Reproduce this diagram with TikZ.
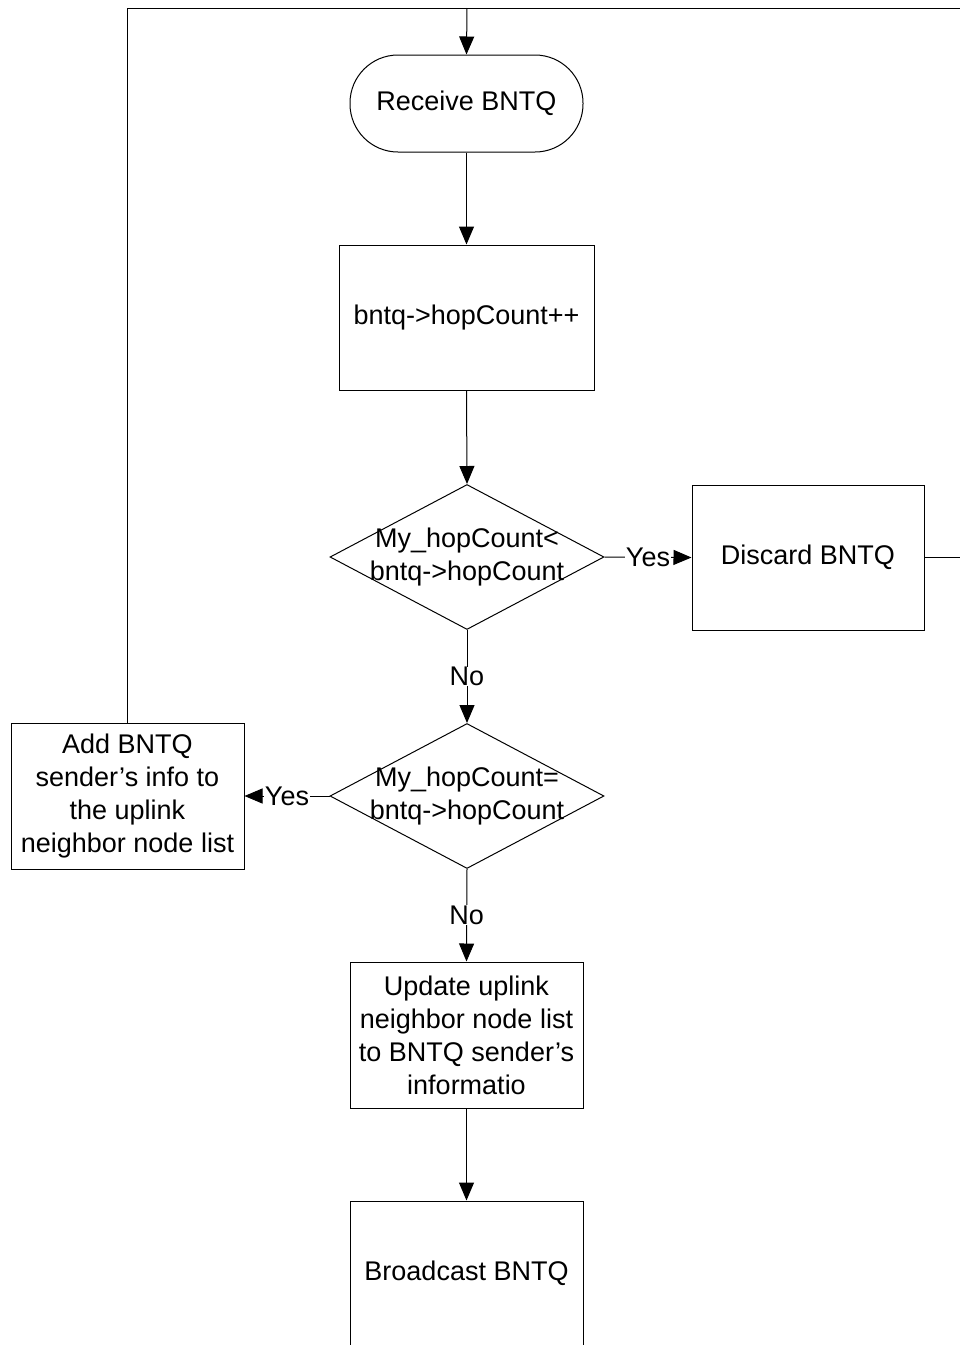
\documentclass[tikz,border=0pt]{standalone}
\usepackage{fontspec}
\setmainfont{Liberation Sans}
\usetikzlibrary{arrows.meta,shapes.geometric}
\tikzset{
  lbl/.style={font=\fontsize{27}{33}\selectfont, align=center},
  stepbox/.style={draw, line width=1pt, rectangle, inner sep=0pt, lbl},
  termbox/.style={draw, line width=1pt, rectangle, rounded corners=48pt, inner sep=0pt, lbl,
                  minimum width=233pt, minimum height=97pt},
  decision/.style={draw, line width=1pt, diamond, inner sep=0pt, aspect=1.89,
                   minimum width=274pt, minimum height=145pt},
  flow/.style={line width=1pt, -{Triangle[length=18pt,width=15pt]}},
  plain/.style={line width=1pt},
  edgelbl/.style={lbl, fill=white, inner sep=0.5pt}
}
\begin{document}
\begin{tikzpicture}[x=1pt,y=-1pt]
  \path[use as bounding box, clip] (0,0) rectangle (960,1345);
  \fill[white] (0,0) rectangle (960,1345);

  % process steps
  \node[termbox] (recv) at (466.5,103.5) {Receive BNTQ};
  \node[stepbox, minimum width=255pt, minimum height=145pt] (inc) at (466.5,317.5) {bntq->hopCount++};
  \node[decision] (d1) at (467,557) {};
  \node[lbl] (d1txt) at (467,557) {My\_hopCount<\\bntq->hopCount};
  \node[stepbox, minimum width=232pt, minimum height=145pt] (disc) at (808,557.5) {Discard BNTQ};
  \node[decision] (d2) at (467,796) {};
  \node[lbl] (d2txt) at (467,796) {My\_hopCount=\\bntq->hopCount};
  \node[stepbox, minimum width=233pt, minimum height=146pt] (add) at (127.5,796) {Add BNTQ\\sender's info to\\the uplink\\neighbor node list};
  \node[stepbox, minimum width=233pt, minimum height=146pt] (upd) at (466.5,1035) {Update uplink\\neighbor node list\\to BNTQ sender's\\informatio};
  \node[stepbox, minimum width=233pt, minimum height=147pt] (bcast) at (466.5,1274.5) {};
  \node[lbl] (bcasttxt) at (466.5,1273) {Broadcast BNTQ};

  % loop back to the receive step
  \coordinate (top) at (467,8);
  \draw[plain] (add.north) |- (top);
  \draw[plain] (disc.east) -- ++(80,0) |- (top);
  \draw[flow] (top) -- (recv.north);

  % main flow
  \draw[flow] (recv.south) -- (inc.north);
  \draw[flow] (inc.south) -- (d1.north);
  \draw[flow] (d1.east) -- node[edgelbl] {Yes} (disc.west);
  \draw[flow] (d1.south) -- node[edgelbl] {No} (d2.north);
  \draw[flow] (d2.west) -- node[edgelbl] {Yes} (add.east);
  \draw[flow] (d2.south) -- node[edgelbl] {No} (upd.north);
  \draw[flow] (upd.south) -- (bcast.north);
\end{tikzpicture}
\end{document}
